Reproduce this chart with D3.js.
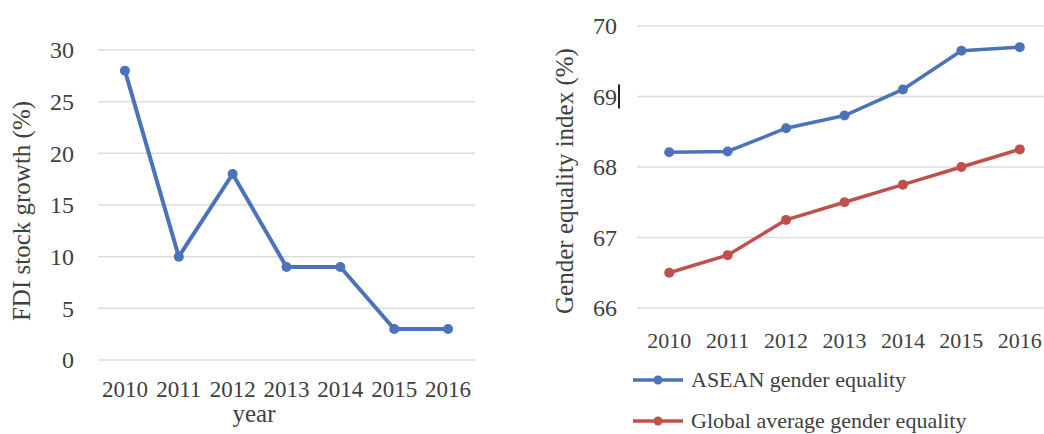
<!DOCTYPE html>
<html>
<head>
<meta charset="utf-8">
<script src="https://cdn.jsdelivr.net/npm/d3@7"></script>
<style>
  body { margin: 0; background: #fff; }
  svg { display: block; }
  text { font-family: "Liberation Serif", "Times New Roman", serif; fill: #404040; }
</style>
</head>
<body>
<svg id="chart" width="1044" height="434"></svg>
<script>
const years = ["2010", "2011", "2012", "2013", "2014", "2015", "2016"];
const fdiGrowth = [28, 10, 18, 9, 9, 3, 3];
const fdiTicks = [0, 5, 10, 15, 20, 25, 30];
const aseanIndex = [68.21, 68.22, 68.55, 68.73, 69.1, 69.65, 69.7];
const globalIndex = [66.5, 66.75, 67.25, 67.5, 67.75, 68.0, 68.25];
const genderTicks = [66, 67, 68, 69, 70];

const blue = "#4a73b9";
const red = "#c0504d";
const grid = "#dcdcdc";

const svg = d3.select("#chart");

// ---- left chart: FDI stock growth
let x1 = d3.scaleBand().domain(years).range([98, 475]);
let y1 = d3.scaleLinear().domain([0, 30]).range([360, 50]);

let g1 = svg.append("g");
g1.selectAll(".grid").data(fdiTicks).join("line")
  .attr("x1", 98).attr("x2", 475)
  .attr("y1", d => y1(d)).attr("y2", d => y1(d))
  .attr("stroke", grid).attr("stroke-width", 1.5);

g1.append("g")
  .attr("transform", "translate(74,0)")
  .call(d3.axisLeft(y1).tickValues(fdiTicks).tickSize(0).tickPadding(0))
  .call(g => g.select(".domain").remove())
  .selectAll("text").attr("font-size", 24).attr("font-family", "Liberation Serif").attr("fill", "#404040");

g1.append("g")
  .attr("transform", "translate(0,381)")
  .call(d3.axisBottom(x1).tickSize(0).tickPadding(0))
  .call(g => g.select(".domain").remove())
  .selectAll("text").attr("font-size", 23).attr("font-family", "Liberation Serif").attr("fill", "#404040")
  .attr("dy", "0.71em");

let line1 = d3.line().x((d, i) => x1(years[i]) + x1.bandwidth() / 2).y(d => y1(d));
g1.append("path").datum(fdiGrowth).attr("d", line1)
  .attr("fill", "none").attr("stroke", blue).attr("stroke-width", 4).attr("stroke-linejoin", "round");
g1.selectAll(".pt").data(fdiGrowth).join("circle")
  .attr("cx", (d, i) => x1(years[i]) + x1.bandwidth() / 2).attr("cy", d => y1(d))
  .attr("r", 5).attr("fill", blue);

g1.append("text").attr("transform", "translate(30,211) rotate(-90)")
  .attr("text-anchor", "middle").attr("font-size", 25).attr("fill", "#595959")
  .text("FDI stock growth (%)");
g1.append("text").attr("x", 254).attr("y", 422)
  .attr("text-anchor", "middle").attr("font-size", 25)
  .text("year");

// ---- right chart: gender equality index
let x2 = d3.scaleBand().domain(years).range([640, 1049]);
let y2 = d3.scaleLinear().domain([66, 70]).range([308, 26]);

let g2 = svg.append("g");
g2.selectAll(".grid").data(genderTicks).join("line")
  .attr("x1", 637).attr("x2", 1044)
  .attr("y1", d => y2(d)).attr("y2", d => y2(d))
  .attr("stroke", grid).attr("stroke-width", 1.5);

g2.append("g")
  .attr("transform", "translate(617,0)")
  .call(d3.axisLeft(y2).tickValues(genderTicks).tickFormat(d3.format("d")).tickSize(0).tickPadding(0))
  .call(g => g.select(".domain").remove())
  .selectAll("text").attr("font-size", 24).attr("font-family", "Liberation Serif").attr("fill", "#404040");

// small cursor mark next to "69" in the source image
g2.append("line").attr("x1", 619).attr("x2", 619)
  .attr("y1", y2(69) - 12).attr("y2", y2(69) + 12)
  .attr("stroke", "#222").attr("stroke-width", 2);

g2.append("g")
  .attr("transform", "translate(0,332)")
  .call(d3.axisBottom(x2).tickSize(0).tickPadding(0))
  .call(g => g.select(".domain").remove())
  .selectAll("text").attr("font-size", 22).attr("font-family", "Liberation Serif").attr("fill", "#404040")
  .attr("dy", "0.71em");

let series = [
  { name: "ASEAN gender equality", values: aseanIndex, color: blue },
  { name: "Global average gender equality", values: globalIndex, color: red }
];
let line2 = d3.line().x((d, i) => x2(years[i]) + x2.bandwidth() / 2).y(d => y2(d));
series.forEach(s => {
  g2.append("path").datum(s.values).attr("d", line2)
    .attr("fill", "none").attr("stroke", s.color).attr("stroke-width", 3.5).attr("stroke-linejoin", "round");
  g2.selectAll(null).data(s.values).join("circle")
    .attr("cx", (d, i) => x2(years[i]) + x2.bandwidth() / 2).attr("cy", d => y2(d))
    .attr("r", 5).attr("fill", s.color);
});

g2.append("text").attr("transform", "translate(573,181) rotate(-90)")
  .attr("text-anchor", "middle").attr("font-size", 25).attr("fill", "#595959")
  .text("Gender equality index (%)");

// legend
series.forEach((s, i) => {
  let ly = 380 + i * 41;
  g2.append("line").attr("x1", 633).attr("x2", 683).attr("y1", ly).attr("y2", ly)
    .attr("stroke", s.color).attr("stroke-width", 3.5);
  g2.append("circle").attr("cx", 658).attr("cy", ly).attr("r", 4.5).attr("fill", s.color);
  g2.append("text").attr("x", 691).attr("y", ly + 7).attr("font-size", 22).text(s.name);
});
</script>
</body>
</html>
